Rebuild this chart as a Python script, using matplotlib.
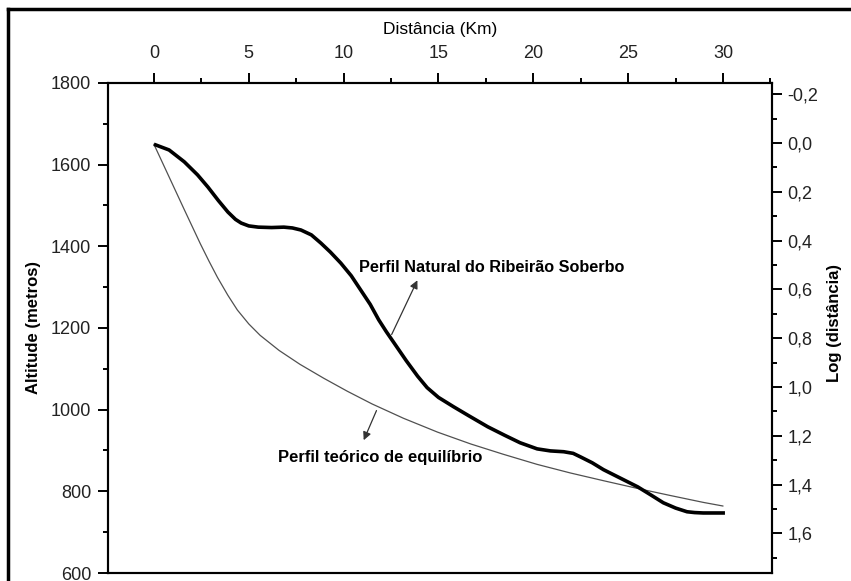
import matplotlib
matplotlib.use("Agg")
import matplotlib.pyplot as plt
from matplotlib.ticker import MultipleLocator, FuncFormatter
from matplotlib.lines import Line2D

plt.rcParams['font.family'] = ['Liberation Sans', 'DejaVu Sans']

# Perfil natural do Ribeirão Soberbo (km, m)
dist_natural = [0.0, 0.8, 1.6, 2.3, 2.85, 3.4, 3.9, 4.3, 4.6, 5.0, 5.5, 6.2, 6.85, 7.3, 7.75,
                8.3, 8.8, 9.3, 9.85, 10.4, 10.9, 11.4, 11.85, 12.25, 12.65, 13.3, 13.9, 14.4,
                15.0, 15.8, 16.6, 17.6, 18.5, 19.3, 20.2, 20.9, 21.6, 22.1, 22.5, 23.1, 23.7,
                24.6, 25.5, 26.2, 26.85, 27.5, 28.1, 28.5, 28.95, 29.5, 30.1]
alt_natural = [1650, 1636, 1607, 1575, 1545, 1512, 1484, 1466, 1457, 1450, 1447, 1446, 1447,
               1445, 1440, 1428, 1408, 1386, 1359, 1328, 1293, 1258, 1220, 1191, 1164, 1120,
               1082, 1054, 1030, 1007, 985, 958, 937, 919, 904, 899, 897, 893, 884, 870, 853,
               832, 811, 791, 772, 759, 750, 748, 747, 747, 747]

# Perfil teórico de equilíbrio (km, m)
dist_teorico = [0.0, 0.9, 1.6, 2.45, 2.9, 3.35, 3.9, 4.4, 5.0, 5.6, 6.6, 7.7, 8.95, 10.2,
                11.5, 13.15, 14.95, 16.7, 18.4, 20.2, 21.95, 23.7, 25.5, 27.2, 28.95, 30.0]
alt_teorico = [1650, 1560, 1490, 1406, 1364, 1324, 1280, 1244, 1210, 1182, 1145, 1111, 1077,
               1045, 1014, 979, 945, 916, 891, 866, 845, 826, 807, 790, 773, 764]

x_ticks = [0, 5, 10, 15, 20, 25, 30]

fig = plt.figure(figsize=(8.51, 5.81), dpi=100)
ax = fig.add_axes([108 / 851, 8 / 581, 664 / 851, 490 / 581])

ax.plot(dist_teorico, alt_teorico, color='#505050', lw=0.9, solid_capstyle='round')
ax.plot(dist_natural, alt_natural, color='black', lw=2.6, solid_capstyle='butt')

ax.set_xlim(-2.42, 32.58)
ax.set_ylim(600, 1800)

ax.xaxis.tick_top()
ax.xaxis.set_label_position('top')
ax.set_xticks(x_ticks)
ax.xaxis.set_minor_locator(MultipleLocator(2.5))
ax.yaxis.set_major_locator(MultipleLocator(200))
ax.yaxis.set_minor_locator(MultipleLocator(100))
ax.tick_params(which='major', direction='out', length=7, width=1.4, labelsize=13)
ax.tick_params(which='minor', direction='out', length=3.5, width=1.4)
ax.tick_params(axis='x', which='both', bottom=False, top=True, pad=8, labelcolor='#222222')
ax.tick_params(axis='y', which='both', right=False, pad=5, labelcolor='#222222')
ax.set_xlabel('Distância (Km)', fontsize=12.5)
ax.set_ylabel('Altitude (metros)', fontsize=12, fontweight='bold')
ax.yaxis.set_label_coords(-0.101, 0.5)
ax.xaxis.set_label_coords(0.5, 1.1)
for s in ax.spines.values():
    s.set_linewidth(1.5)

# eixo direito: log da distância
ax2 = ax.twinx()
ax2.set_ylim(1.762, -0.246)
ax2.yaxis.set_major_locator(MultipleLocator(0.2))
ax2.yaxis.set_minor_locator(MultipleLocator(0.1))
ax2.yaxis.set_major_formatter(FuncFormatter(lambda v, p: f"{v:.1f}".replace('.', ',').replace('-0,0', '0,0')))
ax2.tick_params(which='major', direction='out', length=7, width=1.4, labelsize=13, pad=4, labelcolor='#222222')
ax2.tick_params(which='minor', direction='out', length=3.5, width=1.4)
ax2.set_ylabel('Log (distância)', fontsize=12, fontweight='bold')
ax2.yaxis.set_label_coords(1.083, 0.51)
for s in ax2.spines.values():
    s.set_linewidth(1.5)

# anotações com setas
ax.annotate('', xy=(13.95, 1323), xytext=(12.47, 1178),
            arrowprops=dict(arrowstyle='-|>', color='#333333', lw=0.9, mutation_scale=12))
ax.text(10.79, 1347, 'Perfil Natural do Ribeirão Soberbo', fontsize=11.7, fontweight='bold',
        ha='left', va='center')
ax.annotate('', xy=(11.0, 919), xytext=(11.79, 1004),
            arrowprops=dict(arrowstyle='-|>', color='#333333', lw=0.9, mutation_scale=12))
ax.text(6.53, 882, 'Perfil teórico de equilíbrio', fontsize=12, fontweight='bold',
        ha='left', va='center')

# moldura da página
fig.add_artist(Line2D([8 / 851, 8 / 851], [0, 1 - 9 / 581], color='black', lw=2.5,
                      transform=fig.transFigure))
fig.add_artist(Line2D([8 / 851, 1], [1 - 9 / 581, 1 - 9 / 581], color='black', lw=2.5,
                      transform=fig.transFigure))

fig.savefig('out.png', dpi=100)
